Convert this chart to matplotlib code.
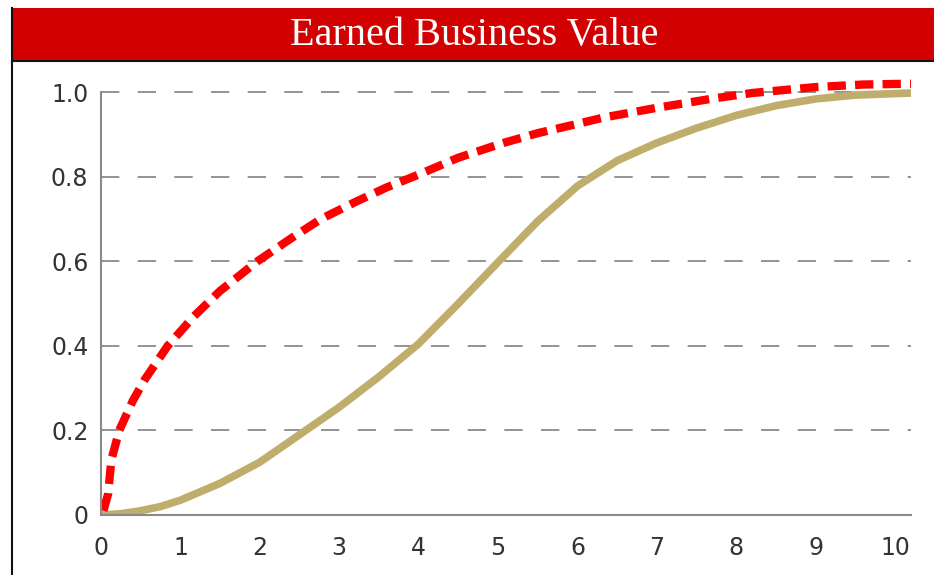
import matplotlib.pyplot as plt
from matplotlib.patches import Rectangle
from matplotlib.lines import Line2D

# values
x_red = [0.03, 0.09, 0.13, 0.23, 0.4, 0.55, 0.84, 1.17, 1.5, 1.97, 2.4, 2.77, 3.2, 3.6, 4.0,
         4.5, 5.07, 5.5, 6.0, 6.33, 7.0, 7.71, 8.2, 9.0, 9.6, 10.2]
y_red = [0.01, 0.05, 0.13, 0.2, 0.27, 0.32, 0.4, 0.47, 0.53, 0.6, 0.655, 0.7, 0.74, 0.775, 0.805,
         0.845, 0.88, 0.903, 0.925, 0.94, 0.963, 0.985, 0.998, 1.012, 1.018, 1.02]
x_tan = [0, 0.25, 0.5, 0.75, 1, 1.5, 2, 2.5, 3, 3.5, 4, 4.5, 5, 5.5, 6, 6.5, 7, 7.5, 8, 8.5,
         9, 9.5, 10.2]
y_tan = [0, 0.003, 0.01, 0.02, 0.035, 0.075, 0.125, 0.19, 0.255, 0.327, 0.405, 0.5, 0.598,
         0.695, 0.778, 0.838, 0.88, 0.915, 0.945, 0.968, 0.984, 0.993, 0.998]
xticks = list(range(0, 11))
yticks = [0, 0.2, 0.4, 0.6, 0.8, 1.0]
ylabels = ['0', '0.2', '0.4', '0.6', '0.8', '1.0']
title = 'Earned Business Value'

fig = plt.figure(figsize=(9.34, 5.75), dpi=100)

# red title banner and frame lines
fig.patches.append(Rectangle((12/934, 1 - 61/575), 1, 53/575, transform=fig.transFigure,
                             facecolor='#D20000', edgecolor='none'))
fig.lines.append(Line2D([12/934, 1], [1 - 61/575, 1 - 61/575], transform=fig.transFigure,
                        color='#111111', lw=1.5))
fig.lines.append(Line2D([12/934, 12/934], [0, 1 - 8/575], transform=fig.transFigure,
                        color='#111111', lw=1.5))
fig.text(474/934, 1 - 36/575, title, ha='center', va='center', color='white',
         fontsize=29, family='Liberation Serif')

ax = fig.add_axes([101/934, 60/575, 810/934, 444/575])
ax.plot(x_tan, y_tan, color='#BFAD6C', lw=5.5, solid_capstyle='butt', solid_joinstyle='round')
ax.plot(x_red, y_red, color='#FF0000', lw=6, dashes=(2.2, 1.1))

ax.set_xlim(0, 10.2)
ax.set_ylim(0, 1.05)
ax.set_xticks(xticks)
ax.set_yticks(yticks)
ax.set_yticklabels(ylabels)
ax.tick_params(length=0, labelsize=17, colors='#333333')
ax.tick_params(axis='x', pad=15)
ax.tick_params(axis='y', pad=9)
for y in yticks[1:]:
    ax.axhline(y, color='#808080', lw=1.2, dashes=(11, 11), zorder=0)
for s in ['top', 'right']:
    ax.spines[s].set_visible(False)
ax.spines['left'].set_bounds(0, 1.0)
for s in ['left', 'bottom']:
    ax.spines[s].set_color('#8a8a8a')
    ax.spines[s].set_linewidth(1.5)

fig.savefig('out.png', dpi=100)
